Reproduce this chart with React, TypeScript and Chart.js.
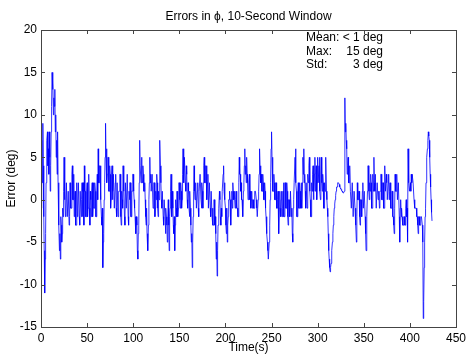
import React, { useEffect, useRef } from "react";
import { Chart, registerables } from "chart.js";

Chart.register(...registerables);

const chartTitle = "Errors in \u03D5, 10-Second Window";
const xTitle = "Time(s)";
const yTitle = "Error (deg)";
const statLabels = ["Mean:", "Max:", "Std:"];
const statValues = ["< 1 deg", "15 deg", "3 deg"];
const xMin = 0;
const xMax = 450;
const xStep = 50;
const yMin = -15;
const yMax = 20;
const yStep = 5;
const sampleSeconds = 0.5;

// error in degrees, two samples per second (one row = 10 s)
const errors = [
  -1, 3, 7, 2, 9, 4, -2, -6, -11, -7, -4, 2, 5, 7, 8, 4, 6, 3, 8, 5,
  1, 4, 8, 11, 15, 13, 14, 10, 12, 11, 13, 8, 10, 5, 7, 3, 8, 2, 0, -3,
  -6, -4, -7, -2, -3, -5, -4, -1, -2, 1, 5, 0, 1, -2, -1, 2, 2, -2, -2, 1,
  1, -3, -2, 2, 2, -1, -1, 3, 4, 0, 0, 3, -2, 0, 1, -3, -3, 1, 2, -2,
  -1, 2, 2, -2, -3, 1, 1, -2, 0, 2, -2, 1, 2, -3, 4, 1, 1, -2, -2, 1,
  2, -2, -1, 2, 3, -1, -3, 1, 0, -2, 1, 2, -2, -1, 2, -1, -1, 2, 1, -2,
  -2, 1, 3, 0, 6, 2, 2, 4, 4, 1, 0, -2, -3, -1, -8, -5, -4, 0, 2, 5,
  9, 5, 6, 2, 3, 5, 5, 1, 1, 4, 3, -1, 0, 3, 4, 0, 1, 3, 3, -1,
  -1, 2, 3, -1, -2, 2, 2, -2, -2, 1, 1, 3, 3, -2, -3, 1, 0, -1, 4, 1,
  1, -2, -3, 2, 2, -1, -1, 3, 3, -2, -3, 1, 0, 2, 2, -2, -2, 1, 1, 3,
  3, 1, 0, -1, -2, -4, -4, -2, -3, -6, -7, -4, -3, 2, 7, 4, 4, 2, 5, 3,
  2, 4, 3, 1, 1, 2, 0, -2, -3, -1, -4, -5, -6, -3, 0, 2, 5, 2, 3, 1,
  1, 3, 3, -1, -1, 2, 2, -2, -1, 1, 0, 3, 2, -1, -2, 1, 0, 3, 7, 4,
  2, 0, -1, 1, 1, -2, -3, 0, 0, -2, -4, -1, -2, -3, -5, -2, 0, -3, -6, -2,
  -1, 1, 3, 0, -2, 1, -1, -3, -4, -2, -6, -3, 0, -1, -2, 1, 1, -2, -1, 2,
  2, 0, -1, 2, 1, -1, 0, 3, 6, 3, 2, 5, 5, 2, 1, 4, 3, 0, -1, 2,
  1, -1, -2, 1, -1, -3, -5, -4, -8, -5, -2, 1, 4, 1, 0, 2, 2, -1, -1, 1,
  2, -1, -2, 1, 1, 3, 3, 0, -1, 2, 1, -1, 2, 4, 5, 2, 2, 4, 4, 1,
  0, 2, 3, -1, -1, 2, 2, -1, -2, 1, 1, -2, -1, -3, -3, 0, 0, -3, -2, -4,
  -7, -5, -9, -6, -3, -1, -1, 1, 0, -2, -3, -1, -2, 1, 1, 3, 4, 1, 2, 0,
  -1, -3, -4, -1, -5, -3, -2, 0, 0, 1, 0, -2, -3, 0, 1, -1, 2, 1, 0, 1,
  1, -1, 0, 1, 1, -1, -1, -2, -2, 2, 5, 3, 3, 1, 2, 0, 0, -1, -2, 1,
  2, 4, 6, 3, 4, 2, 5, 3, 2, 0, 1, 2, 3, 0, 1, -1, 0, 1, -1, 0,
  0, -1, -1, 0, 1, 1, 1, 0, -1, -2, -2, 0, 1, 3, 6, 4, 4, 2, 3, 1,
  1, 3, 2, 0, 0, 2, 1, -1, -2, -3, -4, -5, -6, -7, -7, -5, -3, 0, 2, 6,
  8, 5, 3, 1, 1, 3, 2, 0, 0, 2, 2, -1, -1, 0, 1, -2, -4, -1, 1, -1,
  -2, 0, 1, -2, -1, 1, 2, -2, -2, 2, 2, -1, -1, 2, 1, -2, -3, 0, 0, -2,
  -2, 1, 1, -2, -1, -4, -5, -1, 0, 2, 2, 5, 6, 2, 1, -2, -2, 1, 2, -1,
  -1, 2, 1, -1, 0, 2, -1, 2, 5, 3, 6, 2, 3, 1, -1, 2, 2, -1, 0, 3,
  2, 4, 5, 1, 0, -2, -2, 2, 1, 3, 4, 0, 1, 3, 5, 1, 2, 4, 0, 2,
  5, 2, 2, 4, 5, 1, 0, 3, 5, 2, 1, 3, 2, -1, -1, 2, 1, 4, 5, 1,
  0, -1, -2, -4, -6, -7, -8, -8.5, -8, -7.5, -7, -6, -5, -4, -3, -2, -1, -0.5, 0, 0.5,
  1, 1.5, 1.5, 2, 2, 2, 2, 1.8, 1.5, 1.4, 1.3, 1.2, 1.1, 1, 0.9, 0.8, 0.8, 0.9, 1, 12,
  8, 9, 7, 6, 3, 4, 5, 2, 2, 4, 4, 1, 1, -1, -1, 2, 2, -2, -2, 1,
  1, -1, -2, -3, -5, -2, 2, 0, 0, 1, 1, -2, -3, 0, 0, -2, -2, 1, 2, -1,
  -1, 1, 1, -2, -4, -6, -6, -2, 1, 4, 4, 1, 0, 2, 1, 3, 2, -1, -1, 2,
  3, 1, 5, 2, 1, 3, 3, -1, -1, 2, 2, 0, 0, 1, -1, 1, 1, 3, 3, 0,
  0, 2, 2, -1, -1, 3, 4, 1, 1, 3, 2, 0, 0, 2, 3, 0, 1, 2, 2, -1,
  -1, 1, 1, -2, -2, -3, -4, -1, 3, 1, 1, 3, 3, 0, 0, 2, 2, -2, -5, -1,
  0, -2, -1, -2, -2, -3, -3, -2, -2, -3, -3, -1, 0, -2, -1, -5, 6, 3, 2, 1,
  1, 2, 1, 3, 2, 3, 3, 2, 2, 0, -1, -1, -1, -1, -1, -2, -2, -3, -4, -2,
  -2, -3, -3, -2, -2, -2, -2, -3, -5, -14, -12, -8, -5, -2, -1, 2, 4, 5, 6, 7,
  8, 7.5, 7, 5, 3, 1.5, 0, -1.5, -2.5,
];

const FONT = "'Liberation Sans', Arial, sans-serif";

const framePlugin = {
  id: "frame",
  beforeDraw(chart: any) {
    const { ctx } = chart;
    ctx.save();
    ctx.fillStyle = "#ffffff";
    ctx.fillRect(0, 0, chart.width, chart.height);
    ctx.restore();
  },
  afterDraw(chart: any) {
    const { ctx, chartArea: a, scales } = chart;
    const xs = scales.x;
    const ys = scales.y;
    ctx.save();
    ctx.strokeStyle = "#444444";
    ctx.lineWidth = 1;
    ctx.strokeRect(Math.round(a.left) + 0.5, Math.round(a.top) + 0.5, Math.round(a.right - a.left), Math.round(a.bottom - a.top));
    const tl = 4;
    ctx.beginPath();
    for (let v = xMin; v <= xMax; v += xStep) {
      const px = Math.round(xs.getPixelForValue(v)) + 0.5;
      ctx.moveTo(px, a.bottom);
      ctx.lineTo(px, a.bottom - tl);
      ctx.moveTo(px, a.top);
      ctx.lineTo(px, a.top + tl);
    }
    for (let v = yMin; v <= yMax; v += yStep) {
      const py = Math.round(ys.getPixelForValue(v)) + 0.5;
      ctx.moveTo(a.left, py);
      ctx.lineTo(a.left + tl, py);
      ctx.moveTo(a.right, py);
      ctx.lineTo(a.right - tl, py);
    }
    ctx.stroke();

    ctx.fillStyle = "#000000";
    ctx.font = `12px ${FONT}`;
    ctx.textAlign = "center";
    ctx.textBaseline = "middle";
    ctx.fillText(chartTitle, (a.left + a.right) / 2, 17);

    const lx = a.left + 265;
    const rx = a.left + 342;
    for (let i = 0; i < statLabels.length; i++) {
      const y = a.top + 8 + i * 13.5;
      ctx.textAlign = "left";
      ctx.fillText(statLabels[i], lx, y);
      ctx.textAlign = "right";
      ctx.fillText(statValues[i], rx, y);
    }
    ctx.restore();
  },
};

export default function App() {
  const ref = useRef<HTMLCanvasElement | null>(null);
  useEffect(() => {
    if (!ref.current) return;
    const points = errors.map((v, i) => ({ x: i * sampleSeconds, y: v }));
    const chart = new Chart(ref.current, {
      type: "line",
      data: {
        datasets: [
          {
            data: points,
            borderColor: "rgb(0,0,255)",
            borderWidth: 0.8,
            pointRadius: 0,
            tension: 0,
            fill: false,
          },
        ],
      },
      options: {
        responsive: false,
        animation: false,
        layout: { padding: { left: 0, right: 11, top: 30, bottom: 0 } },
        plugins: { legend: { display: false }, tooltip: { enabled: false }, title: { display: false } },
        scales: {
          x: {
            type: "linear",
            min: xMin,
            max: xMax,
            grid: { display: false, drawTicks: false },
            border: { display: false },
            ticks: { stepSize: xStep, color: "#000", padding: 4, font: { family: FONT, size: 12 }, maxRotation: 0 },
            title: { display: true, text: xTitle, color: "#000", font: { family: FONT, size: 12 }, padding: { top: 0, bottom: -1 } },
            afterFit: (s: any) => { s.height = 27; },
          },
          y: {
            min: yMin,
            max: yMax,
            grid: { display: false, drawTicks: false },
            border: { display: false },
            ticks: { stepSize: yStep, color: "#000", padding: 4, font: { family: FONT, size: 12 } },
            title: { display: true, text: yTitle, color: "#000", font: { family: FONT, size: 12 }, padding: { top: 4, bottom: 0 } },
            afterFit: (s: any) => { s.width = 41; },
          },
        },
      },
      plugins: [framePlugin],
    });
    return () => chart.destroy();
  }, []);
  return (
    <div style={{ position: "absolute", left: 0, top: 0 }}>
      <canvas ref={ref} width={470} height={354} style={{ display: "block", width: 470, height: 354 }} />
    </div>
  );
}
